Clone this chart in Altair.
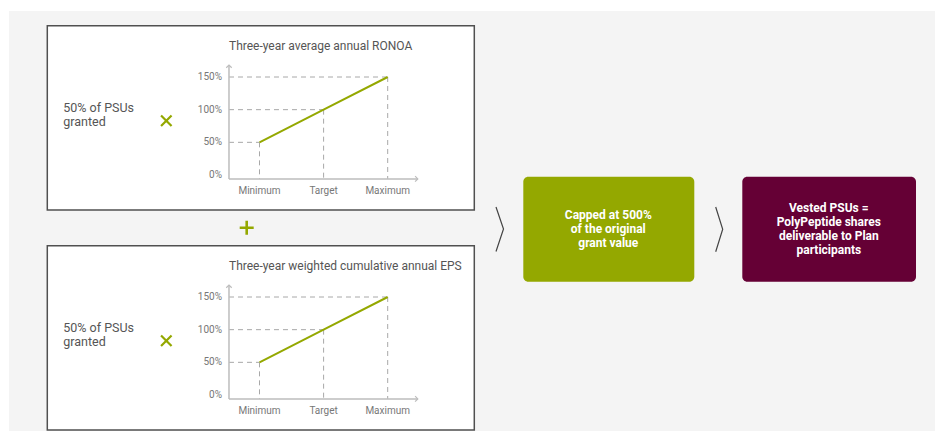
import altair as alt
import pandas as pd

# ---------------- data ----------------
categories = ["Minimum", "Target", "Maximum"]
payout = [50, 100, 150]
y_ticks = [0, 50, 100, 150]
y_tick_labels = ["0%", "50%", "100%", "150%"]
panel_titles = ["Three-year average annual RONOA",
                "Three-year weighted cumulative annual EPS"]
left_text = "50% of PSUs\ngranted"
cap_text = "Capped at 500%\nof the original\ngrant value"
vest_text = "Vested PSUs =\nPolyPeptide shares\ndeliverable to Plan\nparticipants"

# ---------------- style / layout ----------------
W, H = 927, 423
FONT = "Roboto"
GREEN = "#94A800"
PURPLE = "#650035"
BG = "#F4F4F4"
BORDER = "#505050"
AXIS_C = "#BDBDBD"
DASH_C = "#A8A8A8"
TEXT_C = "#555555"
TICK_C = "#777777"

X_AXIS = -0.476   # x index where the y axis sits
X_END = 2.47      # x index of the arrow tip
Y_AXIS = -6.0     # y value where the x axis sits
Y_END = 168.4     # y value of the arrow tip
PANEL_DY = 220    # vertical shift between panels


def px(field):
    return dict(field=field, type="quantitative", scale=None, axis=None)


# ---------------- layout pieces (pixel space) ----------------
bg = alt.Chart(pd.DataFrame({"x": [1], "x2": [W], "y": [3], "y2": [H]})).mark_rect(
    fill=BG).encode(x=alt.X(**px("x")), x2="x2", y=alt.Y(**px("y")), y2="y2")

boxes = alt.Chart(pd.DataFrame({"x": [39.3, 39.3], "x2": [466.3, 466.3],
                                "y": [17.7, 17.7 + PANEL_DY], "y2": [202, 202 + PANEL_DY]})).mark_rect(
    fill="white", stroke=BORDER, strokeWidth=1.5).encode(
    x=alt.X(**px("x")), x2="x2", y=alt.Y(**px("y")), y2="y2")

cbox = pd.DataFrame({"x": [515.3, 734.3], "x2": [686.3, 908], "y": [168.7, 168.7],
                     "y2": [273.7, 273.7], "c": [GREEN, PURPLE]})
colored = alt.Chart(cbox).mark_rect(cornerRadius=5).encode(
    x=alt.X(**px("x")), x2="x2", y=alt.Y(**px("y")), y2="y2",
    fill=alt.Fill("c:N", scale=None))

box_text = alt.Chart(pd.DataFrame({"x": [600.3, 820.8], "y": [207.2, 200.3],
                                   "t": [cap_text, vest_text]})).mark_text(
    font=FONT, fontSize=12, fontWeight="bold", color="white", align="center",
    baseline="middle", lineBreak="\n", lineHeight=13.8).encode(
    x=alt.X(**px("x")), y=alt.Y(**px("y")), text="t:N")

left = alt.Chart(pd.DataFrame({"x": [55.3, 55.3], "y": [100, 100 + PANEL_DY],
                               "t": [left_text, left_text]})).mark_text(
    font=FONT, fontSize=12.5, color=TEXT_C, align="left", baseline="middle",
    lineBreak="\n", lineHeight=13.8).encode(
    x=alt.X(**px("x")), y=alt.Y(**px("y")), text="t:N")

titles = alt.Chart(pd.DataFrame({"x": [221, 221], "y": [37.7, 37.7 + PANEL_DY],
                                 "t": panel_titles})).mark_text(
    font=FONT, fontSize=12, color=TEXT_C, align="left", baseline="middle").encode(
    x=alt.X(**px("x")), y=alt.Y(**px("y")), text="t:N")

times = alt.Chart(pd.DataFrame({"x": [158.3, 158.3], "y": [112.7, 112.7 + PANEL_DY]})).mark_point(
    shape="M-1,-1L1,1M-1,1L1,-1", filled=False, stroke=GREEN, strokeWidth=2.2,
    size=110, opacity=1).encode(x=alt.X(**px("x")), y=alt.Y(**px("y")))

plus = alt.Chart(pd.DataFrame({"x": [238.7], "y": [219.7]})).mark_point(
    shape="M-1,0L1,0M0,-1L0,1", filled=False, stroke=GREEN, strokeWidth=2.6,
    size=196, opacity=1).encode(x=alt.X(**px("x")), y=alt.Y(**px("y")))

chev = pd.DataFrame({
    "x": [488, 495.5, 488, 707.7, 714.7, 707.7],
    "y": [199, 221, 243.5, 199, 221.3, 243.7],
    "g": [0, 0, 0, 1, 1, 1], "o": [0, 1, 2, 0, 1, 2]})
chevrons = alt.Chart(chev).mark_line(color="#444444", strokeWidth=1.2).encode(
    x=alt.X(**px("x")), y=alt.Y(**px("y")), detail="g:N", order="o:Q")


# ---------------- mini charts (data through scales) ----------------
def panel(shift):
    xs = alt.Scale(domain=[0, 2], range=[251.5, 379.7], zero=False, nice=False)
    ys = alt.Scale(domain=[0, 150], range=[167 + shift, 69 + shift], zero=False, nice=False)

    pts = pd.DataFrame({"cat": categories, "i": [0, 1, 2], "v": payout,
                        "x0": X_AXIS, "y0": Y_AXIS})
    ticks = pd.DataFrame({"v": y_ticks, "lab": y_tick_labels, "x0": X_AXIS})
    ax = pd.DataFrame({"x0": [X_AXIS], "x1": [X_END], "y0": [Y_AXIS], "y1": [Y_END]})

    X = lambda f: alt.X(f, scale=xs, axis=None)
    Y = lambda f: alt.Y(f, scale=ys, axis=None)

    hdash = alt.Chart(pts).mark_rule(color=DASH_C, strokeDash=[5, 4], strokeWidth=1).encode(
        x=X("x0:Q"), x2="i:Q", y=Y("v:Q"))
    vdash = alt.Chart(pts).mark_rule(color=DASH_C, strokeDash=[5, 4], strokeWidth=1).encode(
        x=X("i:Q"), y=Y("v:Q"), y2="y0:Q")
    yaxis = alt.Chart(ax).mark_rule(color=AXIS_C, strokeWidth=1.5).encode(
        x=X("x0:Q"), y=Y("y0:Q"), y2="y1:Q")
    xaxis = alt.Chart(ax).mark_rule(color=AXIS_C, strokeWidth=1.5).encode(
        x=X("x0:Q"), x2="x1:Q", y=Y("y0:Q"))
    up = alt.Chart(ax).mark_point(shape="M-1,1L0,0L1,1", filled=False, stroke=AXIS_C,
                                  strokeWidth=1.2, size=30, opacity=1).encode(
        x=X("x0:Q"), y=Y("y1:Q"))
    right = alt.Chart(ax).mark_point(shape="M-1,-1L0,0L-1,1", filled=False, stroke=AXIS_C,
                                     strokeWidth=1.2, size=30, opacity=1).encode(
        x=X("x1:Q"), y=Y("y0:Q"))
    ylab = alt.Chart(ticks).mark_text(font=FONT, fontSize=10, color=TICK_C, align="right",
                                      baseline="middle", dx=-7).encode(
        x=X("x0:Q"), y=Y("v:Q"), text="lab:N")
    xlab = alt.Chart(pts).mark_text(font=FONT, fontSize=10, color=TICK_C, align="center",
                                    baseline="middle", dy=11.7).encode(
        x=X("i:Q"), y=Y("y0:Q"), text="cat:N")
    line = alt.Chart(pts).mark_line(color=GREEN, strokeWidth=2).encode(
        x=X("i:Q"), y=Y("v:Q"), order="i:Q")
    return alt.layer(hdash, vdash, yaxis, xaxis, up, right, ylab, xlab, line)


chart = alt.layer(
    bg, boxes, colored, box_text, left, titles, times, plus, chevrons,
    panel(0), panel(PANEL_DY)
).resolve_scale(x="independent", y="independent").properties(
    width=W, height=H, padding=0, autosize="none", background="white"
).configure_view(stroke=None)

chart.save("out.html", embed_options={"renderer": "svg", "actions": False})
